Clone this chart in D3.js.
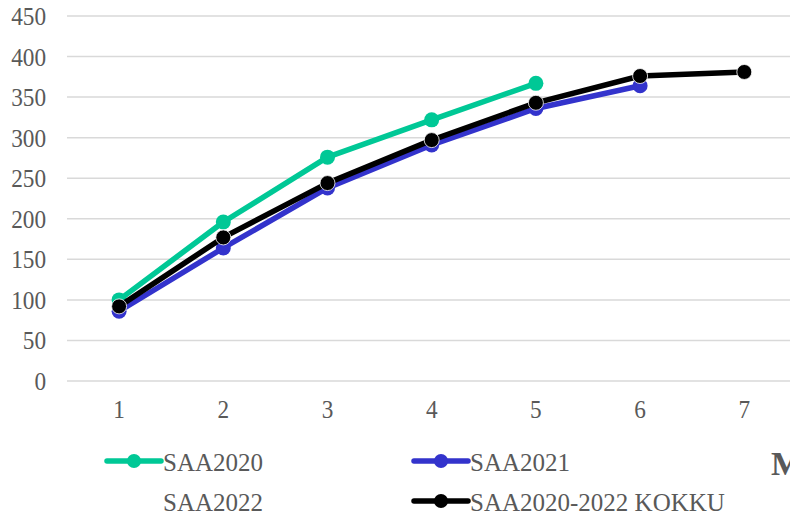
<!DOCTYPE html>
<html><head><meta charset="utf-8">
<script src="https://cdn.jsdelivr.net/npm/d3@7"></script>
<style>body{margin:0;background:#fff;}svg{display:block;}</style>
</head><body>
<svg id="c" width="790" height="517"></svg>
<script>
const categories = ["1","2","3","4","5","6","7"];
const yTicks = [0,50,100,150,200,250,300,350,400,450];
const saa2020 = [100,196,276,322,367];
const saa2021 = [86,164,238,291,336,364];
const saa2022 = [];
const kokku = [92,177,244,297,343,376,381];
const seriesNames = ["SAA2020","SAA2021","SAA2022","SAA2020-2022 KOKKU"];
const seriesColors = ["#00C896","#3333CC","#A5A5A5","#000000"];
const seriesData = [saa2020,saa2021,saa2022,kokku];

const FONT = "Liberation Serif";
const svg = d3.select("#c");
const x = d3.scaleBand().domain(categories).range([67,796.4]);
const y = d3.scaleLinear().domain([0,450]).range([381,16]);

function label(sel, tx, ty, anchor, size, sx){
  sel.attr("transform",(d,i)=>`translate(${tx(d,i)},${ty(d,i)}) scale(${sx},1)`)
    .attr("text-anchor",anchor).attr("font-size",size).attr("fill","#595959")
    .attr("font-family",FONT);
}

// gridlines
svg.append("g").selectAll("line").data(yTicks).join("line")
  .attr("x1",67).attr("x2",790)
  .attr("y1",d=>y(d)).attr("y2",d=>y(d))
  .attr("stroke","#D9D9D9").attr("stroke-width",1.5);

// y axis labels
label(svg.append("g").selectAll("text").data(yTicks).join("text").text(d=>d),
  d=>46, d=>y(d)+9, "end", 25, 0.93);

// x axis labels
label(svg.append("g").selectAll("text").data(categories).join("text").text(d=>d),
  d=>x(d)+x.bandwidth()/2, d=>418, "middle", 25, 0.93);

const line = d3.line().x((d,i)=>x(categories[i])+x.bandwidth()/2).y(d=>y(d));
const order = [1,0,3];
order.forEach(si=>{
  const data = seriesData[si];
  if(!data.length) return;
  const g = svg.append("g");
  g.append("path").datum(data).attr("d",line).attr("fill","none")
    .attr("stroke",seriesColors[si]).attr("stroke-width",5.5).attr("stroke-linejoin","round").attr("stroke-linecap","round");
  g.selectAll("circle").data(data).join("circle")
    .attr("cx",(d,i)=>x(categories[i])+x.bandwidth()/2).attr("cy",d=>y(d))
    .attr("r",7.5).attr("fill",seriesColors[si])
    .attr("stroke", si===3 ? "#fff" : "none").attr("stroke-width", si===3 ? 0.8 : 0);
});

// legend
const legendPos = [[107,461],[414,461],[107,501],[414,501]];
seriesNames.forEach((name,i)=>{
  const [lx,ly] = legendPos[i];
  const g = svg.append("g");
  if(seriesData[i].length){
    g.append("line").attr("x1",lx).attr("x2",lx+54).attr("y1",ly).attr("y2",ly)
      .attr("stroke",seriesColors[i]).attr("stroke-width",5.5).attr("stroke-linecap","round");
    g.append("circle").attr("cx",lx+27).attr("cy",ly).attr("r",7).attr("fill",seriesColors[i]);
  }
  label(g.append("text").datum(name).text(name), ()=>lx+56, ()=>ly+10, "start", 25, 1);
});

// cut-off axis title
svg.append("text").attr("x",771).attr("y",475).attr("font-size",34).attr("font-weight","bold")
  .attr("font-family",FONT).attr("fill","#595959").text("M");
</script>
</body></html>
